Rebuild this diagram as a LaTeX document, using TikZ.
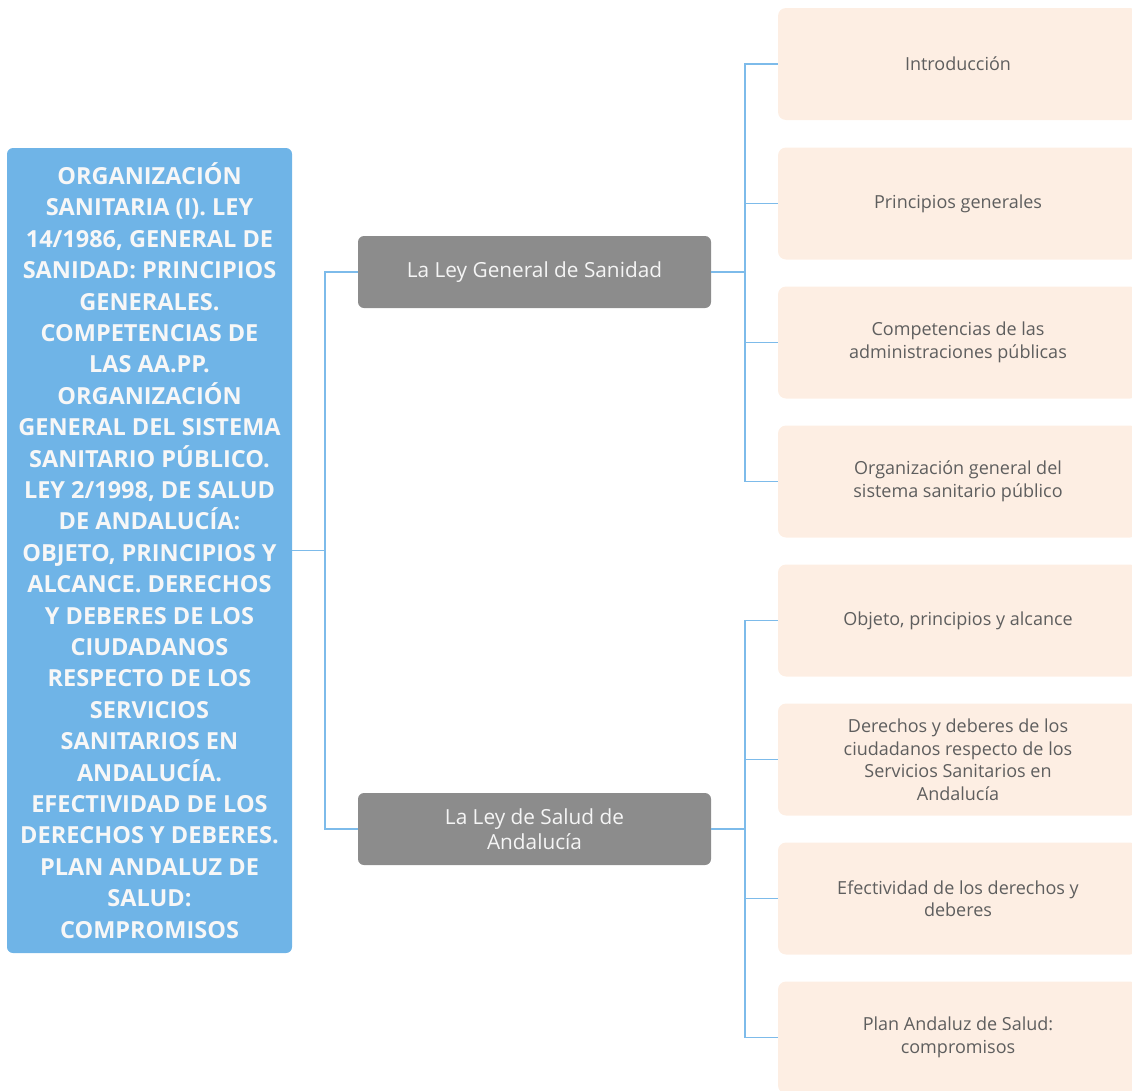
\documentclass[tikz,border=0pt]{standalone}
\usepackage{fontspec}
\setmainfont{Open Sans}
\definecolor{topicblue}{HTML}{6FB4E7}
\definecolor{linkblue}{HTML}{7DBBEA}
\definecolor{branchgray}{HTML}{8C8C8C}
\definecolor{leafpeach}{HTML}{FDEEE3}
\definecolor{leaftext}{HTML}{5E5E5E}
\begin{document}
\begin{tikzpicture}[x=1pt,y=-1pt,
  topic/.style={fill=topicblue, draw=none, rounded corners=6pt, inner sep=0pt,
    minimum width=285pt, minimum height=805pt, align=center, text=white!94!gray,
    font=\fontsize{23.5}{31.4}\selectfont\bfseries},
  branch/.style={fill=branchgray, draw=none, rounded corners=6pt, inner sep=0pt,
    minimum width=353pt, minimum height=72pt, align=center, text=white!92!gray,
    font=\fontsize{20.8}{25}\selectfont},
  leaf/.style={fill=leafpeach, draw=none, rounded corners=8pt, inner sep=0pt,
    minimum width=360pt, minimum height=112pt, align=center, text=leaftext,
    font=\fontsize{18}{22.5}\selectfont},
  link/.style={draw=linkblue, line width=1.2pt}]
\useasboundingbox (0,0) rectangle (1132,1090);

% root topic
\node[topic] (root) at (149.5,550.5) {ORGANIZACIÓN\\SANITARIA (I). LEY\\14/1986, GENERAL DE\\SANIDAD: PRINCIPIOS\\GENERALES.\\COMPETENCIAS DE\\LAS AA.PP.\\ORGANIZACIÓN\\GENERAL DEL SISTEMA\\SANITARIO PÚBLICO.\\LEY 2/1998, DE SALUD\\DE ANDALUCÍA:\\OBJETO, PRINCIPIOS Y\\ALCANCE. DERECHOS\\Y DEBERES DE LOS\\CIUDADANOS\\RESPECTO DE LOS\\SERVICIOS\\SANITARIOS EN\\ANDALUCÍA.\\EFECTIVIDAD DE LOS\\DERECHOS Y DEBERES.\\PLAN ANDALUZ DE\\SALUD:\\COMPROMISOS};

% main branches
\node[branch] (lgs) at (534.5,272) {La Ley General de Sanidad};
\node[branch] (lsa) at (534.5,829) {La Ley de Salud de\\Andalucía};

% leaves of the first branch
\node[leaf] (l1) at (958,64) {Introducción};
\node[leaf] (l2) at (958,203.5) {Principios generales};
\node[leaf] (l3) at (958,342.5) {Competencias de las\\administraciones públicas};
\node[leaf] (l4) at (958,481.5) {Organización general del\\sistema sanitario público};

% leaves of the second branch
\node[leaf] (l5) at (958,620.5) {Objeto, principios y alcance};
\node[leaf] (l6) at (958,759.5) {Derechos y deberes de los\\ciudadanos respecto de los\\Servicios Sanitarios en\\Andalucía};
\node[leaf] (l7) at (958,898.5) {Efectividad de los derechos y\\deberes};
\node[leaf] (l8) at (958,1037.5) {Plan Andaluz de Salud:\\compromisos};

% connectors: root to branches
\coordinate (rj) at (325,550.5);
\draw[link] (root.east) -- (rj);
\draw[link] (rj) |- (lgs.west);
\draw[link] (rj) |- (lsa.west);

% connectors: branches to leaves
\coordinate (aj) at (745,272);
\draw[link] (lgs.east) -- (aj);
\foreach \n in {l1,l2,l3,l4} \draw[link] (aj) |- (\n.west);
\coordinate (bj) at (745,829);
\draw[link] (lsa.east) -- (bj);
\foreach \n in {l5,l6,l7,l8} \draw[link] (bj) |- (\n.west);
\end{tikzpicture}
\end{document}
